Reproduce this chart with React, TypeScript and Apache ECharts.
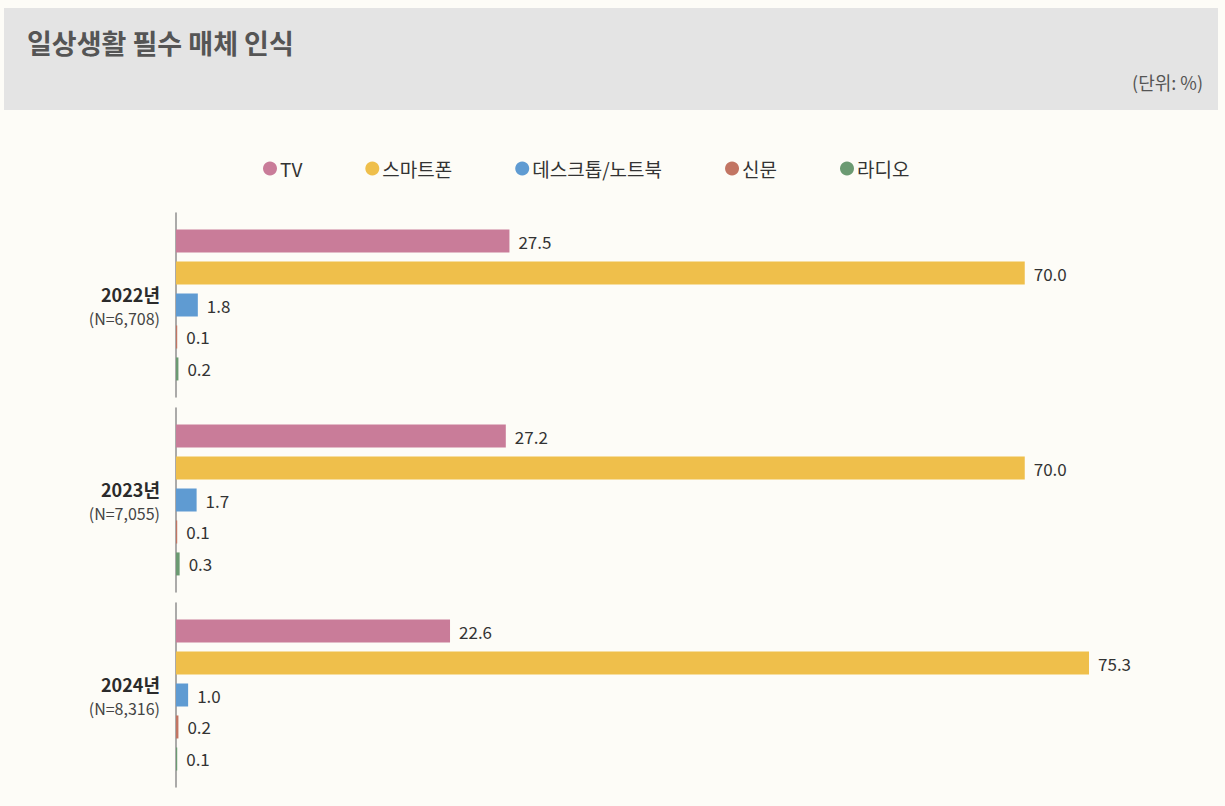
import React, { useEffect, useRef } from "react";
import * as echarts from "echarts";

const years = ["2022년", "2023년", "2024년"];
const sampleSizes = ["(N=6,708)", "(N=7,055)", "(N=8,316)"];
const seriesNames = ["TV", "스마트폰", "데스크톱/노트북", "신문", "라디오"];
const seriesColors = ["#c97c99", "#efbf4b", "#5f9bd2", "#c27563", "#6b9a72"];
// values[seriesIndex][yearIndex]
const tvValues = [27.5, 27.2, 22.6];
const phoneValues = [70.0, 70.0, 75.3];
const pcValues = [1.8, 1.7, 1.0];
const paperValues = [0.1, 0.1, 0.2];
const radioValues = [0.2, 0.3, 0.1];
const allValues = [tvValues, phoneValues, pcValues, paperValues, radioValues];

const FONT = "'Noto Sans CJK KR', 'Noto Sans', sans-serif";

export default function App() {
  const ref = useRef<HTMLDivElement>(null);
  useEffect(() => {
    if (!ref.current) return;
    const chart = echarts.init(ref.current, null, { renderer: "svg" });
    const gridTops = [213, 408, 603];
    const gridHeight = 184;
    const grids = gridTops.map((t) => ({
      left: 176,
      width: 970,
      top: t,
      height: gridHeight,
      containLabel: false,
    }));
    const xAxes = years.map((_, i) => ({
      type: "value",
      gridIndex: i,
      min: 0,
      max: 80,
      show: false,
    }));
    const yAxes = years.map((y, i) => ({
      type: "category",
      gridIndex: i,
      data: [y],
      inverse: true,
      axisLine: { show: true, lineStyle: { color: "#8f8f8f", width: 1.5 } },
      axisTick: { show: false },
      axisLabel: {
        margin: 16,
        align: "right",
        formatter: (v: string) => `{y|${v}}\n{n|${sampleSizes[i]}}`,
        rich: {
          y: { fontFamily: FONT, fontSize: 18, fontWeight: "bold", color: "#2b2b2b", lineHeight: 26, align: "right" },
          n: { fontFamily: FONT, fontSize: 16, color: "#444", lineHeight: 22, align: "right" },
        },
      },
    }));
    const series: any[] = [];
    years.forEach((_, yi) => {
      seriesNames.forEach((name, si) => {
        series.push({
          type: "bar",
          name,
          xAxisIndex: yi,
          yAxisIndex: yi,
          data: [allValues[si][yi]],
          barWidth: 23,
          barGap: "39%",
          itemStyle: { color: seriesColors[si] },
          label: {
            show: true,
            position: "right",
            distance: 9,
            fontFamily: FONT,
            fontSize: 17,
            color: "#333",
            formatter: (p: any) => Number(p.value).toFixed(1),
          },
        });
      });
    });
    chart.setOption({
      animation: false,
      backgroundColor: "transparent",
      legend: {
        top: 154,
        left: 258,
        itemWidth: 14,
        itemHeight: 14,
        itemGap: 63,
        icon: "circle",
        data: seriesNames.map((n, i) => ({ name: n, itemStyle: { color: seriesColors[i] } })),
        textStyle: { fontFamily: FONT, fontSize: 19, color: "#333", padding: [0, 0, 0, -2] },
      },
      graphic: [
        { type: "rect", shape: { x: 4, y: 8, width: 1214, height: 102 }, style: { fill: "#e4e4e4" }, z: -10 },
        {
          type: "text",
          x: 27,
          y: 42,
          style: {
            text: "일상생활 필수 매체 인식",
            fontFamily: FONT,
            fontSize: 27,
            fontWeight: "bold",
            fill: "#555",
            verticalAlign: "middle",
          },
        },
        {
          type: "text",
          x: 1203,
          y: 82,
          style: {
            text: "(단위: %)",
            fontFamily: FONT,
            fontSize: 18,
            fill: "#555",
            align: "right",
            verticalAlign: "middle",
          },
        },
      ],
      grid: grids,
      xAxis: xAxes,
      yAxis: yAxes,
      series,
    });
    return () => chart.dispose();
  }, []);
  return (
    <div
      ref={ref}
      style={{ position: "fixed", left: 0, top: 0, width: 1225, height: 806, background: "#fdfcf7" }}
    />
  );
}
